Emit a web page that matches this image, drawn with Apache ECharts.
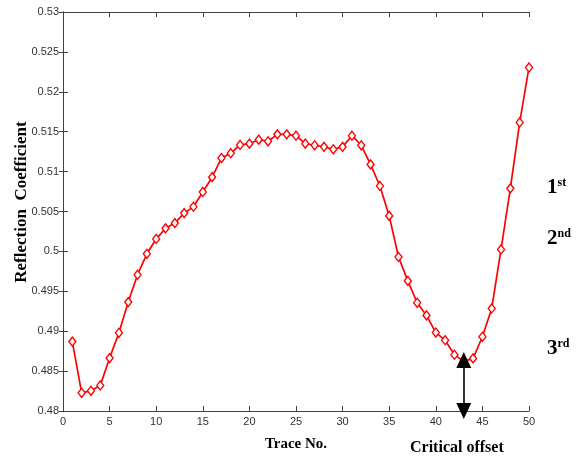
<!DOCTYPE html>
<html>
<head>
<meta charset="utf-8">
<script src="https://cdn.jsdelivr.net/npm/echarts@6/dist/echarts.min.js"></script>
<style>html,body{margin:0;padding:0;background:#fff}#c{width:581px;height:457px}</style>
</head>
<body>
<div id="c"></div>
<script>
var traces = [];
for (var i = 1; i <= 50; i++) traces.push(i);
var reflection = [
  0.4887, 0.48228, 0.48253, 0.4832, 0.48663, 0.4898, 0.49365, 0.49708, 0.4997, 0.50156,
  0.50289, 0.50355, 0.5048, 0.5056, 0.50745, 0.5093, 0.5117, 0.5123, 0.51334, 0.5135,
  0.5140, 0.5138, 0.51467, 0.51467, 0.5145, 0.5135, 0.5133, 0.5131, 0.5128, 0.5131,
  0.5145, 0.5133, 0.5109, 0.5082, 0.50445, 0.4993, 0.4963, 0.49356, 0.49198, 0.48983,
  0.48887, 0.48705, 0.48622, 0.48659, 0.4893, 0.49285, 0.50024, 0.5079, 0.51616, 0.52305
];
var criticalTrace = 43;
var arrowTop = 0.48638;
var arrowBottom = 0.48;

var seriesData = traces.map(function (t, k) { return [t, reflection[k]]; });

var chart = echarts.init(document.getElementById('c'));
var axisColor = '#404040';
var tickFont = { color: '#333', fontSize: 11, fontFamily: 'Liberation Sans, Arial, sans-serif' };
var titleFont = { color: '#000', fontWeight: 'bold', fontFamily: 'Liberation Serif, Times New Roman, serif' };
var serif = 'Liberation Serif, serif';
function ordinal(n, suf) {
  return {
    text: '{a|' + n + '}{b|' + suf + '}',
    rich: {
      a: { fontSize: 21, fontWeight: 'bold', fontFamily: serif, fill: '#000' },
      b: { fontSize: 12, fontWeight: 'bold', fontFamily: serif, fill: '#000', verticalAlign: 'top', padding: [0, 0, 9, 0] }
    }
  };
}

chart.setOption({
  animation: false,
  grid: { left: 63, right: 52, top: 12, bottom: 43, containLabel: false },
  xAxis: [{
    type: 'value', min: 0, max: 50, interval: 5, position: 'bottom',
    axisLine: { lineStyle: { color: axisColor, width: 1 } },
    axisTick: { inside: true, length: 5, lineStyle: { color: axisColor } },
    axisLabel: Object.assign({ margin: 5 }, tickFont),
    splitLine: { show: false },
    name: 'Trace No.', nameLocation: 'middle', nameGap: 26,
    nameTextStyle: Object.assign({ fontSize: 15 }, titleFont)
  }, {
    type: 'value', min: 0, max: 50, interval: 5, position: 'top',
    axisLine: { lineStyle: { color: axisColor, width: 1 } },
    axisTick: { inside: true, length: 5, lineStyle: { color: axisColor } },
    axisLabel: { show: false }, splitLine: { show: false }
  }],
  yAxis: [{
    type: 'value', min: 0.48, max: 0.53, interval: 0.005, position: 'left',
    axisLine: { show: true, lineStyle: { color: axisColor, width: 1 } },
    axisTick: { show: true, inside: true, length: 5, lineStyle: { color: axisColor } },
    axisLabel: Object.assign({ margin: 4, formatter: function (v) { return String(+v.toFixed(3)); } }, tickFont),
    splitLine: { show: false }
  }, {
    type: 'value', min: 0.48, max: 0.53, interval: 0.005, position: 'right',
    axisLine: { show: true, lineStyle: { color: axisColor, width: 1 } },
    axisTick: { show: true, inside: true, length: 4, lineStyle: { color: axisColor } },
    axisLabel: { show: false }, splitLine: { show: false }
  }],
  series: [{
    type: 'line',
    data: seriesData,
    xAxisIndex: 0, yAxisIndex: 0,
    symbol: 'diamond',
    symbolSize: [7, 9],
    lineStyle: { color: '#ff0000', width: 1.7 },
    itemStyle: { color: '#fff', borderColor: '#ff0000', borderWidth: 1.4 },
    z: 3,
    markLine: {
      silent: true,
      symbol: ['triangle', 'triangle'],
      symbolSize: [15, 16],
      label: { show: false },
      lineStyle: { color: '#000', width: 1.6, type: 'solid' },
      itemStyle: { color: '#000' },
      data: [[{ coord: [criticalTrace, arrowTop] }, { coord: [criticalTrace, arrowBottom] }]]
    }
  }],
  graphic: [
    { type: 'rect', shape: { x: 527.5, y: 164, width: 4, height: 207 }, style: { fill: '#fff' }, z: 10 },
    { type: 'text', x: 22, y: 202, rotation: Math.PI / 2, z: 11, style: {
      text: 'Reflection  Coefficient', fontSize: 17, fontWeight: 'bold', fontFamily: serif, fill: '#000',
      align: 'center', verticalAlign: 'middle' } },
    { type: 'text', left: 547, top: 177, z: 11, style: ordinal('1', 'st') },
    { type: 'text', left: 547, top: 228, z: 11, style: ordinal('2', 'nd') },
    { type: 'text', left: 547, top: 338, z: 11, style: ordinal('3', 'rd') },
    { type: 'text', left: 410, top: 440, z: 11, style: {
      text: 'Critical offset', fontSize: 16, fontWeight: 'bold', fontFamily: serif, fill: '#000' } }
  ]
});
</script>
</body>
</html>
